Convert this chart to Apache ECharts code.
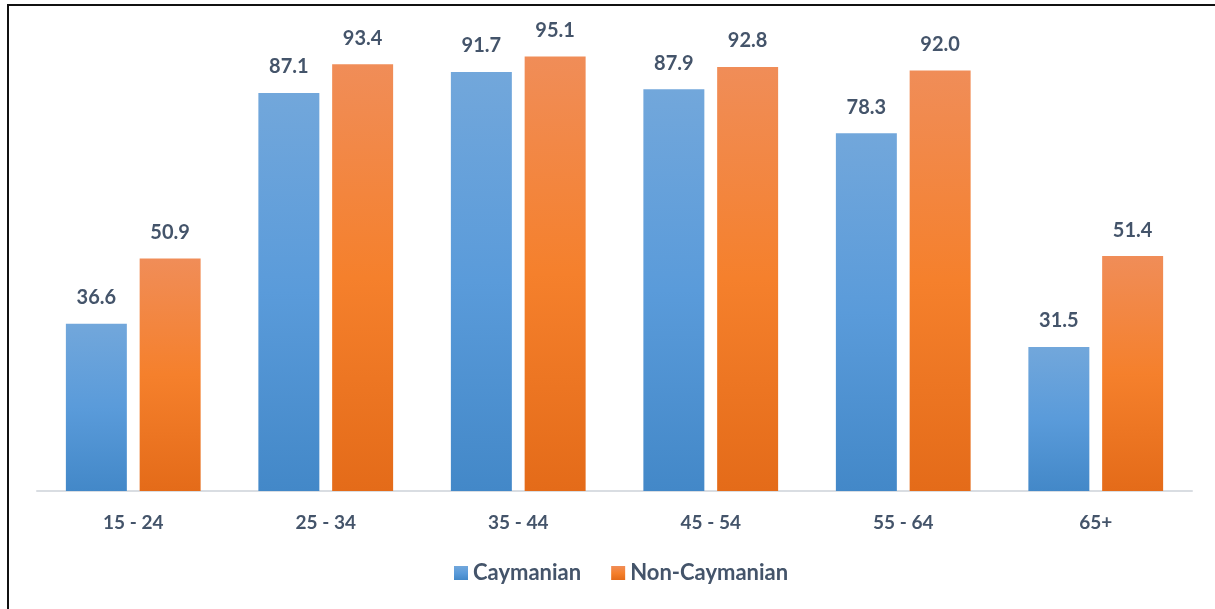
<!DOCTYPE html>
<html>
<head>
<meta charset="utf-8">
<script src="https://cdn.jsdelivr.net/npm/echarts@6/dist/echarts.min.js"></script>
<style>
  html, body { margin: 0; padding: 0; background: #fff; }
  #frame { position: absolute; left: 7px; top: 4px; width: 1215px; height: 610px; border: 2px solid #111; box-sizing: border-box; }
  #chart { position: absolute; left: 0; top: 0; width: 1215px; height: 609px; }
</style>
</head>
<body>
<div id="frame"></div>
<div id="chart"></div>
<script>
// Age groups and participation rates (%)
const ageGroups = ['15 - 24', '25 - 34', '35 - 44', '45 - 54', '55 - 64', '65+'];
const caymanian = [36.6, 87.1, 91.7, 87.9, 78.3, 31.5];
const nonCaymanian = [50.9, 93.4, 95.1, 92.8, 92.0, 51.4];

const textColor = '#44546A';
const fontFamily = 'Lato, "Open Sans", sans-serif';
const heavy = 'bold';

function vGrad(stops) {
  return new echarts.graphic.LinearGradient(0, 0, 0, 1,
    stops.map(([o, c]) => ({ offset: o, color: c })));
}
const blueFill = vGrad([[0, '#72A7DB'], [0.5, '#5A9BDA'], [1, '#4388C8']]);
const orangeFill = vGrad([[0, '#F08D58'], [0.5, '#F5802C'], [1, '#E46B19']]);

const labelStyle = {
  show: true,
  position: 'top',
  distance: 16,
  color: textColor,
  fontFamily: fontFamily,
  fontWeight: heavy,
  fontSize: 20,
  formatter: p => p.value.toFixed(1)
};

const chart = echarts.init(document.getElementById('chart'));
chart.setOption({
  animation: false,
  grid: { left: 37, right: 23, top: 34, bottom: 118 },
  legend: {
    bottom: 20,
    left: 449,
    itemWidth: 14,
    itemHeight: 14,
    itemGap: 30,
    icon: 'rect',
    textStyle: { color: textColor, fontFamily: fontFamily, fontWeight: heavy, fontSize: 22 },
    data: ['Caymanian', 'Non-Caymanian']
  },
  xAxis: {
    type: 'category',
    data: ageGroups,
    axisTick: { show: false },
    axisLine: { lineStyle: { color: '#D9DDE2', width: 2 } },
    axisLabel: { color: textColor, fontFamily: fontFamily, fontWeight: heavy, fontSize: 19, margin: 22 }
  },
  yAxis: {
    type: 'value',
    min: 0,
    max: 100,
    show: false,
    splitLine: { show: false }
  },
  series: [
    {
      name: 'Caymanian',
      type: 'bar',
      data: caymanian,
      barGap: '21%',
      barCategoryGap: '30%',
      itemStyle: { color: blueFill },
      label: labelStyle
    },
    {
      name: 'Non-Caymanian',
      type: 'bar',
      data: nonCaymanian,
      itemStyle: { color: orangeFill },
      label: labelStyle
    }
  ]
});
</script>
</body>
</html>
